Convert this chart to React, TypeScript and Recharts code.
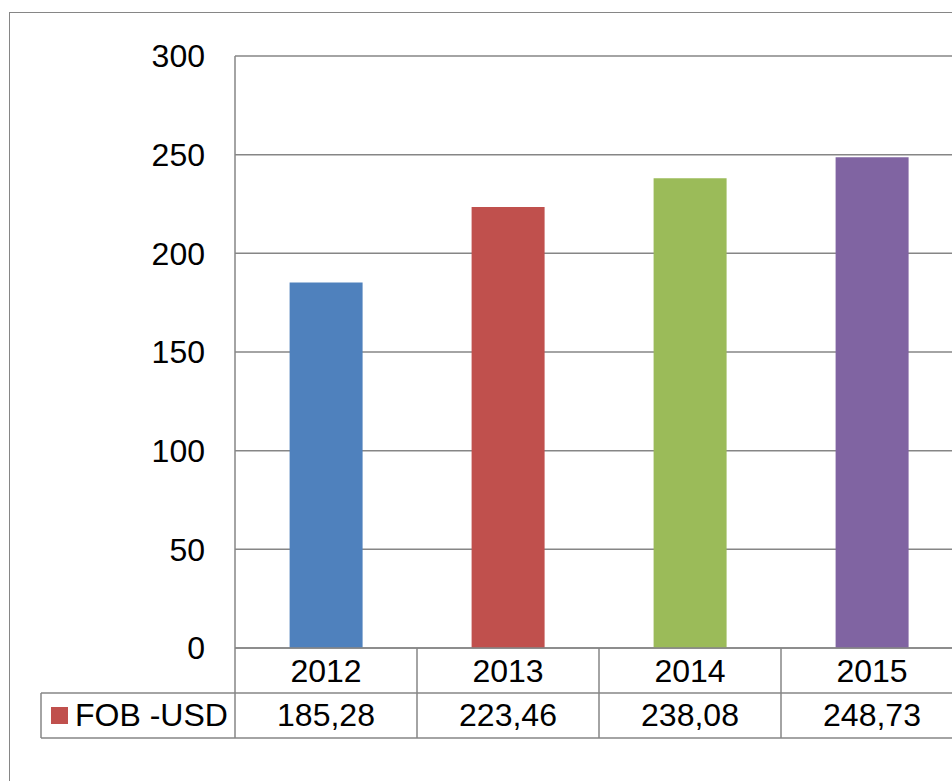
import { BarChart, Bar, XAxis, YAxis, CartesianGrid, Cell } from "recharts";

const years = ["2012", "2013", "2014", "2015"];
const fobUsd = [185.28, 223.46, 238.08, 248.73];
const barColors = ["#4F81BD", "#C0504D", "#9BBB59", "#8064A2"];
const yTicks = [0, 50, 100, 150, 200, 250, 300];
const seriesName = "FOB -USD";
const seriesColor = "#C0504D";

const data = years.map((year, i) => ({ year, value: fobUsd[i] }));

const GRID = "#868686";
const FONT = "'Liberation Sans', Arial, sans-serif";
const ROW = 45;
const LEGEND_W = 194;

const fmt = (v: number) => v.toFixed(2).replace(".", ",");

// x axis tick draws one column of the data table below the plot
function TableTick(props: any) {
  const { x, y, payload } = props;
  const index = props.index ?? payload.index ?? 0;
  const half = payload.offset ?? 0;
  const left = x - half;
  const right = x + half;
  const txt = { fontFamily: FONT, fontSize: 32, fill: "#000", textAnchor: "middle" as const, dominantBaseline: "central" as const };
  return (
    <g>
      <line x1={right} y1={y} x2={right} y2={y + 2 * ROW} stroke={GRID} strokeWidth={1.5} />
      <line x1={left} y1={y + ROW} x2={right} y2={y + ROW} stroke={GRID} strokeWidth={1.5} />
      <line x1={left} y1={y + 2 * ROW} x2={right} y2={y + 2 * ROW} stroke={GRID} strokeWidth={1.5} />
      <text x={x} y={y + 23} {...txt}>{payload.value}</text>
      <text x={x} y={y + ROW + 22} {...txt}>{fmt(fobUsd[index])}</text>
      {index === 0 && (
        <g>
          <line x1={left} y1={y} x2={left} y2={y + 2 * ROW} stroke={GRID} strokeWidth={1.5} />
          <line x1={left - LEGEND_W} y1={y + ROW} x2={left} y2={y + ROW} stroke={GRID} strokeWidth={1.5} />
          <line x1={left - LEGEND_W} y1={y + 2 * ROW} x2={left} y2={y + 2 * ROW} stroke={GRID} strokeWidth={1.5} />
          <line x1={left - LEGEND_W} y1={y + ROW} x2={left - LEGEND_W} y2={y + 2 * ROW} stroke={GRID} strokeWidth={1.5} />
          <rect x={left - LEGEND_W + 10} y={y + ROW + 14} width={17} height={17} fill={seriesColor} />
          <text x={left - LEGEND_W + 34} y={y + ROW + 22} {...txt} textAnchor="start">{seriesName}</text>
        </g>
      )}
    </g>
  );
}

export default function App() {
  return (
    <div style={{ position: "absolute", left: 0, top: 0, width: 952, height: 781, overflow: "hidden", background: "#fff" }}>
      <div style={{ position: "absolute", left: 9, top: 12, width: 1000, height: 820, border: `1.5px solid ${GRID}` }} />
      <div style={{ position: "absolute", left: 0, top: 0 }}>
        <BarChart width={980} height={781} data={data} margin={{ top: 56, right: 17, bottom: 43, left: 0 }} barCategoryGap="30%">
          <CartesianGrid vertical={false} stroke={GRID} strokeWidth={1.5} />
          <YAxis
            width={235}
            domain={[0, 300]}
            ticks={yTicks}
            tickLine={false}
            tickSize={0}
            tickMargin={30}
            axisLine={{ stroke: GRID, strokeWidth: 1.5 }}
            tick={{ fill: "#000", fontSize: 32, fontFamily: FONT }}
          />
          <XAxis
            dataKey="year"
            height={90}
            tickLine={false}
            tickSize={0}
            tickMargin={0}
            axisLine={{ stroke: GRID, strokeWidth: 1.5 }}
            tick={<TableTick />}
            interval={0}
          />
          <Bar dataKey="value" isAnimationActive={false}>
            {data.map((d, i) => (
              <Cell key={d.year} fill={barColors[i]} />
            ))}
          </Bar>
        </BarChart>
      </div>
    </div>
  );
}
